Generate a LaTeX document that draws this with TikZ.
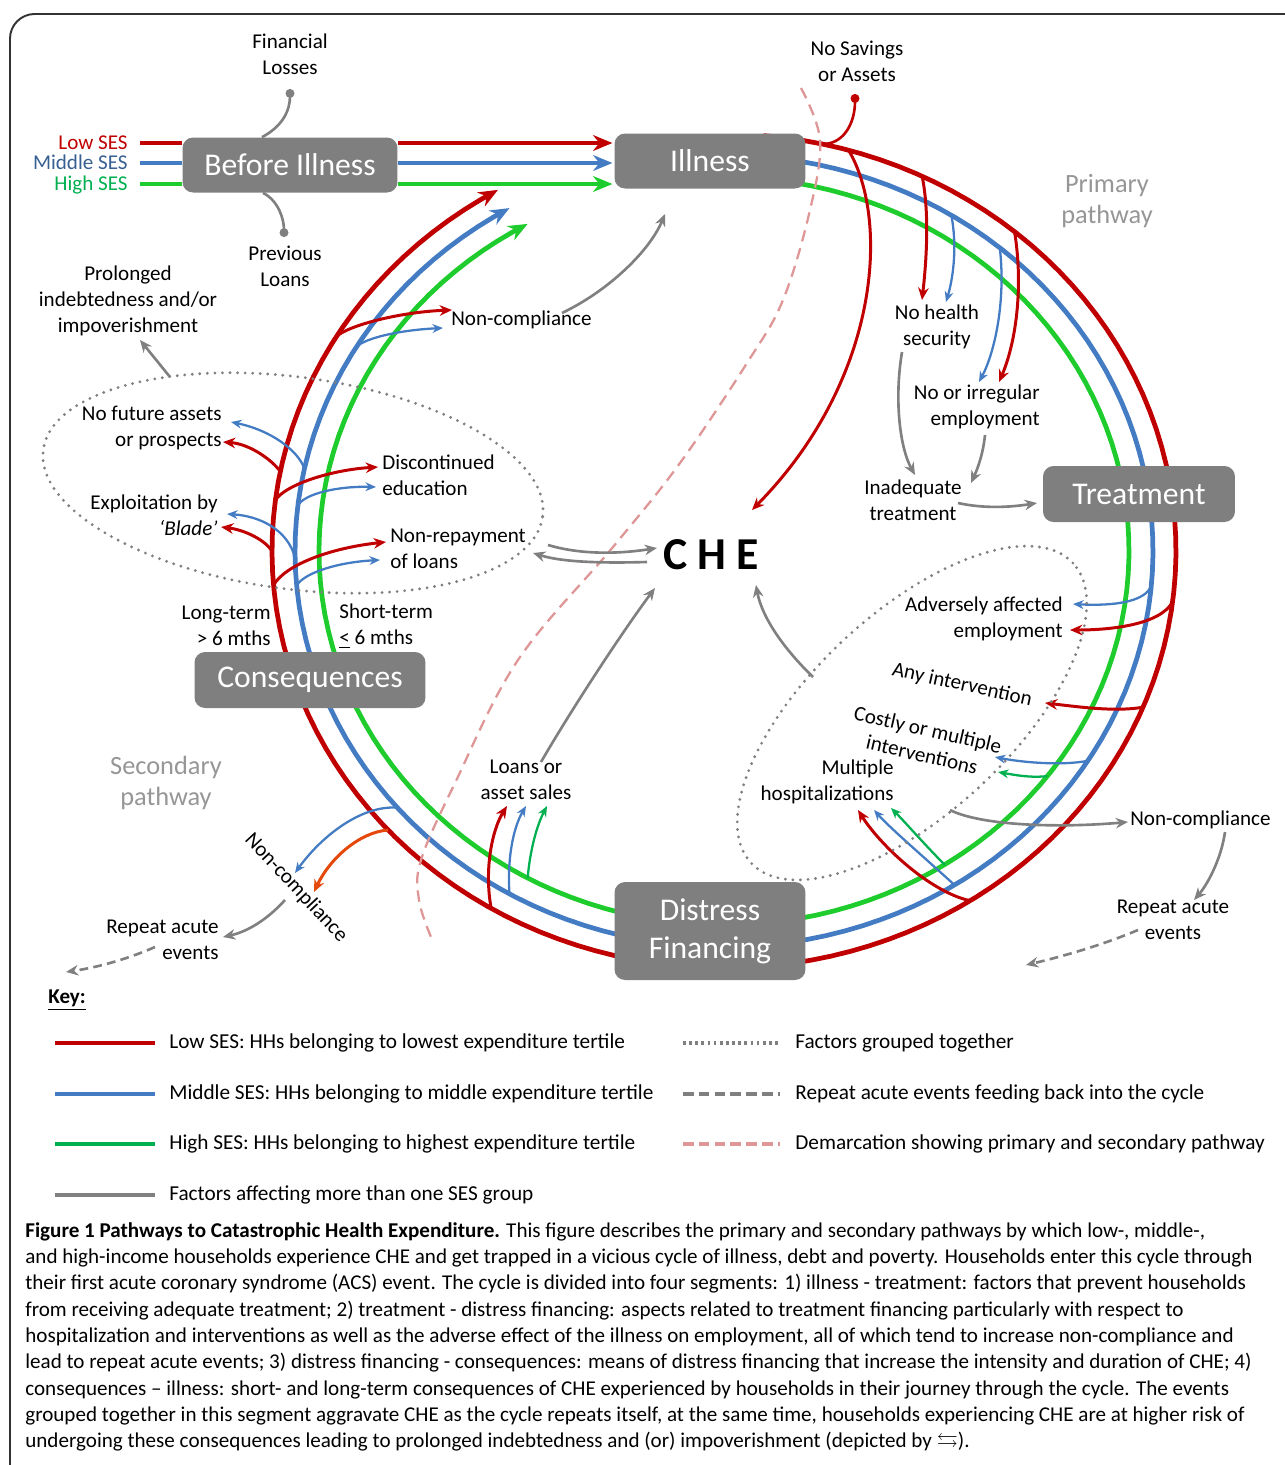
\documentclass[tikz,border=0pt]{standalone}
\usepackage{amssymb}
\usepackage{fontspec}
\setmainfont{Carlito}
\usetikzlibrary{arrows.meta,shapes.geometric}

\definecolor{sesred}{RGB}{192,0,0}
\definecolor{sesblue}{RGB}{68,124,196}
\definecolor{sesgreen}{RGB}{30,205,45}
\definecolor{keygreen}{RGB}{0,176,80}
\definecolor{midtext}{RGB}{55,96,146}
\definecolor{stagegray}{RGB}{127,127,127}
\definecolor{linegray}{RGB}{128,128,128}
\definecolor{pathgray}{RGB}{150,150,150}
\definecolor{demarc}{RGB}{222,150,150}
\definecolor{orangered}{RGB}{228,72,10}

\tikzset{
	stage/.style={fill=stagegray, rounded corners=6pt, text=white, align=center, inner sep=0pt, font=\fontsize{18}{21.5}\selectfont},
	lbl/.style={inner sep=0pt, align=center, font=\fontsize{12}{14.7}\selectfont},
	pathlbl/.style={inner sep=0pt, align=center, text=pathgray, font=\fontsize{15}{18}\selectfont},
	ring/.style={line width=2.7pt, -{Stealth[length=11pt,width=9pt]}},
	branch/.style={line width=1.7pt, -{Stealth[length=7pt,width=6pt]}},
	thinbranch/.style={line width=1.3pt, -{Stealth[length=6pt,width=5pt]}},
	grayarr/.style={linegray, line width=1.5pt, -{Stealth[length=7pt,width=6pt]}},
	graydash/.style={linegray, line width=1.5pt, dash pattern=on 5pt off 3pt, -{Stealth[length=7pt,width=6pt]}},
	dotline/.style={line width=1.5pt, -{Circle[length=5pt]}},
	grpdots/.style={ellipse, draw=linegray, line width=1.8pt, dash pattern=on 0pt off 4.3pt, line cap=round, inner sep=0pt},
	keyline/.style={line width=2.6pt},
	keytext/.style={anchor=west, inner sep=0pt, font=\fontsize{12.1}{14}\selectfont},
}

\begin{document}
\begin{tikzpicture}[x=0.02cm, y=-0.02cm]
	\useasboundingbox (0,0) rectangle (1285,1465);
	\draw[black!80, line width=1.1pt, rounded corners=14pt] (10,14) rectangle (1330,1520);

	% the cycle, one ring per SES group
	\draw[ring, sesred] plot[domain=-85:240, samples=130] ({724+452*cos(\x)}, {551+417*sin(\x)});
	\draw[ring, sesblue] plot[domain=-85:240, samples=130] ({724+429*cos(\x)}, {551+396*sin(\x)});
	\draw[ring, sesgreen] plot[domain=-85:241, samples=130] ({724+405*cos(\x)}, {551+374*sin(\x)});

	\draw[demarc, line width=1.3pt, dash pattern=on 6.5pt off 4pt] plot[smooth, tension=0.6] coordinates {(801,88) (820,140) (810,210) (783,300) (747,363) (680,463) (613,547) (518,660) (455,783) (421,860) (419,900) (431,937)};

	% points on the rings
	\coordinate (jsave) at ({724+452*cos(-77.5)}, {551+417*sin(-77.5)});
	\coordinate (jr1) at ({724+452*cos(-74)}, {551+417*sin(-74)});
	\coordinate (jr2) at ({724+452*cos(-64)}, {551+417*sin(-64)});
	\coordinate (jr3) at ({724+452*cos(-50)}, {551+417*sin(-50)});
	\coordinate (jr4) at ({724+452*cos(7)}, {551+417*sin(7)});
	\coordinate (jr5) at ({724+452*cos(22)}, {551+417*sin(22)});
	\coordinate (jr6) at ({724+452*cos(57)}, {551+417*sin(57)});
	\coordinate (jr7) at ({724+452*cos(121)}, {551+417*sin(121)});
	\coordinate (jr8) at ({724+452*cos(138)}, {551+417*sin(138)});
	\coordinate (jr9) at ({724+452*cos(191)}, {551+417*sin(191)});
	\coordinate (jr10) at ({724+452*cos(187)}, {551+417*sin(187)});
	\coordinate (jr11) at ({724+452*cos(180)}, {551+417*sin(180)});
	\coordinate (jr12) at ({724+452*cos(175.3)}, {551+417*sin(175.3)});
	\coordinate (jr13) at ({724+452*cos(211)}, {551+417*sin(211)});
	\coordinate (jb2) at ({724+429*cos(-58)}, {551+396*sin(-58)});
	\coordinate (jb3) at ({724+429*cos(-50)}, {551+396*sin(-50)});
	\coordinate (jb4) at ({724+429*cos(5)}, {551+396*sin(5)});
	\coordinate (jb5) at ({724+429*cos(32)}, {551+396*sin(32)});
	\coordinate (jb6) at ({724+429*cos(57.5)}, {551+396*sin(57.5)});
	\coordinate (jb7) at ({724+429*cos(120)}, {551+396*sin(120)});
	\coordinate (jb8) at ({724+429*cos(139.6)}, {551+396*sin(139.6)});
	\coordinate (jb9) at ({724+429*cos(192)}, {551+396*sin(192)});
	\coordinate (jb10) at ({724+429*cos(186.6)}, {551+396*sin(186.6)});
	\coordinate (jb11) at ({724+429*cos(179)}, {551+396*sin(179)});
	\coordinate (jb12) at ({724+429*cos(175)}, {551+396*sin(175)});
	\coordinate (jb13) at ({724+429*cos(211)}, {551+396*sin(211)});
	\coordinate (jg5) at ({724+405*cos(37)}, {551+374*sin(37)});
	\coordinate (jg6) at ({724+405*cos(57)}, {551+374*sin(57)});
	\coordinate (jg7) at ({724+405*cos(119)}, {551+374*sin(119)});

	% arrow heads of the branches
	\coordinate (tche) at (752,510);
	\coordinate (tnhsr) at (922,300);
	\coordinate (tnhsb) at (946,302);
	\coordinate (temb) at (979,382);
	\coordinate (temr) at (999,382);
	\coordinate (tadvr) at (1070,630);
	\coordinate (tadvb) at (1073,604);
	\coordinate (tanyr) at (1045,703);
	\coordinate (tcosb) at (995,757);
	\coordinate (tcosg) at (998,772);
	\coordinate (thosr) at (858,810);
	\coordinate (thosb) at (874,810);
	\coordinate (thosg) at (891,808);
	\coordinate (tloanr) at (507,806);
	\coordinate (tloanb) at (526,806);
	\coordinate (tloang) at (547,806);
	\coordinate (tsecb) at (295,873);
	\coordinate (tsecr) at (314,892);
	\coordinate (tfutr) at (223,442);
	\coordinate (tfutb) at (231,422);
	\coordinate (tdisr) at (378,467);
	\coordinate (tdisb) at (376,487);
	\coordinate (tblar) at (221,527);
	\coordinate (tblab) at (227,514);
	\coordinate (trepr) at (386,542);
	\coordinate (trepb) at (380,560);
	\coordinate (tncr) at (452,310);
	\coordinate (tncb) at (443,328);

	% illness -> treatment
	\draw[branch, sesred] (jr1) .. controls (890,220) and (880,380) .. (tche);
	\draw[branch, sesred] (jr2) .. controls (930,215) and (926,265) .. (tnhsr);
	\draw[thinbranch, sesblue] (jb2) .. controls (958,250) and (952,282) .. (tnhsb);
	\draw[thinbranch, sesblue] (jb3) .. controls (1006,300) and (995,352) .. (temb);
	\draw[branch, sesred] (jr3) .. controls (1024,290) and (1015,345) .. (temr);

	% treatment -> distress financing
	\draw[branch, sesred] (jr4) .. controls (1160,625) and (1110,630) .. (tadvr);
	\draw[thinbranch, sesblue] (jb4) .. controls (1145,603) and (1110,606) .. (tadvb);
	\draw[branch, sesred] (jr5) .. controls (1115,712) and (1080,707) .. (tanyr);
	\draw[thinbranch, sesblue] (jb5) .. controls (1060,766) and (1020,762) .. (tcosb);
	\draw[thinbranch, keygreen] (jg5) .. controls (1030,778) and (1015,775) .. (tcosg);
	\draw[branch, sesred] (jr6) .. controls (930,892) and (880,845) .. (thosr);
	\draw[thinbranch, sesblue] (jb6) .. controls (925,858) and (890,828) .. (thosb);
	\draw[thinbranch, keygreen] (jg6) .. controls (925,845) and (905,822) .. (thosg);

	% distress financing -> consequences
	\draw[branch, sesred] (jr7) .. controls (484,870) and (492,830) .. (tloanr);
	\draw[thinbranch, sesblue] (jb7) .. controls (507,860) and (513,828) .. (tloanb);
	\draw[thinbranch, keygreen] (jg7) .. controls (530,850) and (537,825) .. (tloang);
	\draw[thinbranch, sesblue] (jb8) .. controls (360,805) and (320,838) .. (tsecb);
	\draw[branch, orangered] (jr8) .. controls (360,832) and (330,858) .. (tsecr);

	% consequences -> illness
	\draw[branch, sesred] (jr9) .. controls (272,460) and (250,444) .. (tfutr);
	\draw[thinbranch, sesblue] (jb9) .. controls (298,450) and (270,430) .. (tfutb);
	\draw[branch, sesred] (jr10) .. controls (285,485) and (330,470) .. (tdisr);
	\draw[thinbranch, sesblue] (jb10) .. controls (305,493) and (340,486) .. (tdisb);
	\draw[branch, sesred] (jr11) .. controls (265,540) and (245,530) .. (tblar);
	\draw[thinbranch, sesblue] (jb11) .. controls (288,530) and (260,516) .. (tblab);
	\draw[branch, sesred] (jr12) .. controls (285,565) and (330,548) .. (trepr);
	\draw[thinbranch, sesblue] (jb12) .. controls (305,572) and (340,562) .. (trepb);
	\draw[branch, sesred] (jr13) .. controls (350,325) and (400,312) .. (tncr);
	\draw[thinbranch, sesblue] (jb13) .. controls (365,338) and (400,330) .. (tncb);

	% stages
	\node[stage, minimum width=4.3cm, minimum height=1.1cm] (bi) at (290,165) {Before Illness};
	\node[stage, minimum width=3.82cm, minimum height=1.1cm] (ill) at (710,161) {Illness};
	\node[stage, minimum width=3.84cm, minimum height=1.12cm] (trt) at (1139,494) {Treatment};
	\node[stage, minimum width=4.62cm, minimum height=1.12cm] (cons) at (310,680) {Consequences};
	\node[stage, minimum width=3.82cm, minimum height=1.96cm] (df) at (710,931) {Distress\\Financing};

	% entry into the cycle
	\node[lbl, anchor=base east, text=sesred] (lowses) at (128,149) {Low SES};
	\node[lbl, anchor=base east, text=midtext] (midses) at (128,169) {Middle SES};
	\node[lbl, anchor=base east, text=keygreen] (highses) at (128,190) {High SES};
	\coordinate (rowlow) at (140,143);
	\coordinate (rowmid) at (140,163);
	\coordinate (rowhigh) at (140,184);
	\draw[line width=2.7pt, sesred] (rowlow) -- (bi.west |- rowlow);
	\draw[line width=2.7pt, sesblue] (rowmid) -- (bi.west |- rowmid);
	\draw[line width=2.7pt, sesgreen] (rowhigh) -- (bi.west |- rowhigh);
	\draw[ring, sesred, shorten >=1pt] (bi.east |- rowlow) -- (ill.west |- rowlow);
	\draw[ring, sesblue, shorten >=1pt] (bi.east |- rowmid) -- (ill.west |- rowmid);
	\draw[ring, sesgreen, shorten >=1pt] (bi.east |- rowhigh) -- (ill.west |- rowhigh);

	\node[lbl] (finloss) at (290,54) {Financial\\Losses};
	\node[lbl] (prevloan) at (285,266) {Previous\\Loans};
	\node[lbl] (nosave) at (857,61) {No Savings\\or Assets};
	\coordinate (finlossdot) at (290,89);
	\coordinate (prevloandot) at (284,237);
	\coordinate (nosavedot) at (855,94);
	\draw[dotline, linegray] ([xshift=-0.56cm]bi.north) .. controls (283,126) and (290,110) .. (finlossdot);
	\draw[dotline, linegray] ([xshift=-0.54cm]bi.south) .. controls (279,201) and (284,220) .. (prevloandot);
	\draw[dotline, sesred] (jsave) .. controls (842,145) and (855,125) .. (nosavedot);

	\node[pathlbl] (primary) at (1107,201) {Primary\\pathway};
	\node[pathlbl] (secondary) at (166,783) {Secondary\\pathway};

	% illness -> treatment labels
	\node[lbl] (nhs) at (937,327) {No health\\security};
	\node[lbl, anchor=east, align=right] (noemp) at (1040,407) {No or irregular\\employment};
	\node[lbl] (inadeq) at (913,500) {Inadequate\\treatment};
	\node[inner sep=0pt, font=\fontsize{26}{30}\selectfont\bfseries] (che) at (711,555) {C H E};

	% treatment -> distress financing labels
	\node[grpdots, minimum width=8.8cm, minimum height=4.0cm, rotate=43] (grpR) at (912,713) {};
	\node[lbl, anchor=east, align=right] (adverse) at (1063,619) {Adversely affected\\employment};
	\node[lbl, rotate=-12.5] (anyint) at (962,685) {Any intervention};
	\node[lbl, rotate=-13] (costly) at (925,742) {Costly or multiple\\interventions};
	\node[lbl, anchor=east, align=right] (multhosp) at (894,782) {Multiple\\hospitalizations};
	\node[lbl, anchor=west] (ncright) at (1130,820) {Non-compliance};
	\node[lbl] (repright) at (1173,920) {Repeat acute\\events};

	% distress financing -> consequences labels
	\node[lbl] (loans) at (526,780) {Loans or\\asset sales};
	\node[lbl, rotate=-47] (ncsec) at (296,888) {Non-compliance};
	\node[lbl, anchor=east, align=right] (repleft) at (219,940) {Repeat acute\\events};

	% consequences -> illness labels
	\node[grpdots, minimum width=10.08cm, minimum height=4.24cm, rotate=-7.6] (grpL) at (293,483) {};
	\node[lbl] (prolong) at (128,301) {Prolonged\\indebtedness and/or\\impoverishment};
	\node[lbl, anchor=east, align=right] (nofuture) at (222,428) {No future assets\\or prospects};
	\node[lbl, anchor=east, align=right] (exploit) at (218,515) {Exploitation by\\\textit{`Blade'}};
	\node[lbl, anchor=west, align=left] (discont) at (382,475) {Discontinued\\education};
	\node[lbl, anchor=west, align=left] (nonrepay) at (390,549) {Non-repayment\\of loans};
	\node[lbl, anchor=east, align=right] (longterm) at (271,626) {Long-term\\> 6 mths};
	\node[lbl, anchor=west, align=left] (shortterm) at (339,626) {Short-term\\\underline{<} 6 mths};
	\node[lbl, anchor=west] (nctop) at (451,320) {Non-compliance};

	% grey connectors
	\coordinate (ncout) at (562,313);
	\coordinate (illin) at (665,214);
	\coordinate (grptop) at (170,377);
	\coordinate (prolongin) at (140,340);
	\coordinate (grpout) at (548,545);
	\coordinate (chein) at (657,548);
	\coordinate (cheout) at (647,562);
	\coordinate (grpin) at (533,553);
	\coordinate (loansout) at (541,762);
	\coordinate (cheinl) at (655,588);
	\coordinate (grpRout) at (813,677);
	\coordinate (cheinr) at (756,585);
	\coordinate (nhsout) at (902,352);
	\coordinate (inadeqin) at (915,475);
	\coordinate (noempout) at (985,435);
	\coordinate (inadeqinr) at (971,483);
	\coordinate (inadeqout) at (958,503);
	\coordinate (trtin) at (1037,503);
	\coordinate (grpRnc) at (950,810);
	\coordinate (ncrightin) at (1128,822);
	\coordinate (ncrightout) at (1225,832);
	\coordinate (reprightin) at (1194,900);
	\coordinate (reprightout) at (1138,930);
	\coordinate (backright) at (1026,965);
	\coordinate (ncsecout) at (285,900);
	\coordinate (repleftin) at (223,937);
	\coordinate (repleftout) at (155,947);
	\coordinate (backleft) at (66,972);

	\draw[grayarr] (ncout) .. controls (610,290) and (650,250) .. (illin);
	\draw[grayarr] (grptop) -- (prolongin);
	\draw[grayarr] (grpout) .. controls (585,556) and (625,553) .. (chein);
	\draw[grayarr] (cheout) .. controls (610,563) and (565,563) .. (grpin);
	\draw[grayarr] (loansout) .. controls (570,712) and (620,635) .. (cheinl);
	\draw[grayarr] (grpRout) .. controls (785,650) and (762,618) .. (cheinr);
	\draw[grayarr] (nhsout) .. controls (894,400) and (900,448) .. (inadeqin);
	\draw[grayarr] (noempout) .. controls (983,455) and (977,470) .. (inadeqinr);
	\draw[grayarr] (inadeqout) .. controls (985,509) and (1012,507) .. (trtin);
	\draw[grayarr] (grpRnc) .. controls (982,826) and (1060,828) .. (ncrightin);
	\draw[grayarr] (ncrightout) .. controls (1221,860) and (1207,885) .. (reprightin);
	\draw[graydash] (reprightout) .. controls (1100,946) and (1060,957) .. (backright);
	\draw[grayarr] (ncsecout) .. controls (266,921) and (246,932) .. (repleftin);
	\draw[graydash] (repleftout) .. controls (130,958) and (100,967) .. (backleft);

	% key
	\node[anchor=west, inner sep=0pt, font=\fontsize{12}{14}\selectfont\bfseries] (keyhead) at (48,1000) {\underline{Key:}};
	\draw[keyline, sesred] (55,1043) -- (155,1043);
	\draw[keyline, sesblue] (55,1094) -- (155,1094);
	\draw[keyline, keygreen] (55,1144) -- (155,1144);
	\draw[keyline, linegray] (55,1195) -- (155,1195);
	\node[keytext] (keylow) at (169,1043) {Low SES: HHs belonging to lowest expenditure tertile};
	\node[keytext] (keymid) at (169,1094) {Middle SES: HHs belonging to middle expenditure tertile};
	\node[keytext] (keyhigh) at (169,1144) {High SES: HHs belonging to highest expenditure tertile};
	\node[keytext] (keygray) at (169,1195) {Factors affecting more than one SES group};
	\draw[keyline, linegray, dash pattern=on 1.5pt off 2pt] (683,1043) -- (780,1043);
	\draw[keyline, linegray, dash pattern=on 6pt off 3pt] (683,1094) -- (780,1094);
	\draw[keyline, demarc, dash pattern=on 6pt off 3pt] (683,1144) -- (780,1144);
	\node[keytext] (keygroup) at (795,1043) {Factors grouped together};
	\node[keytext] (keyrepeat) at (795,1094) {Repeat acute events feeding back into the cycle};
	\node[keytext] (keydemarc) at (795,1144) {Demarcation showing primary and secondary pathway};

	% caption
	\node[anchor=north west, align=left, inner sep=0pt, font=\fontsize{12}{15}\selectfont] (caption) at (25,1222) {\textbf{Figure 1 Pathways to Catastrophic Health Expenditure.} This figure describes the primary and secondary pathways by which low-, middle-,\\
and high-income households experience CHE and get trapped in a vicious cycle of illness, debt and poverty. Households enter this cycle through\\
their first acute coronary syndrome (ACS) event. The cycle is divided into four segments: 1) illness - treatment: factors that prevent households\\
from receiving adequate treatment; 2) treatment - distress financing: aspects related to treatment financing particularly with respect to\\
hospitalization and interventions as well as the adverse effect of the illness on employment, all of which tend to increase non-compliance and\\
lead to repeat acute events; 3) distress financing - consequences: means of distress financing that increase the intensity and duration of CHE; 4)\\
consequences -- illness: short- and long-term consequences of CHE experienced by households in their journey through the cycle. The events\\
grouped together in this segment aggravate CHE as the cycle repeats itself, at the same time, households experiencing CHE are at higher risk of\\
undergoing these consequences leading to prolonged indebtedness and (or) impoverishment (depicted by $\leftrightarrows$).};
\end{tikzpicture}
\end{document}
